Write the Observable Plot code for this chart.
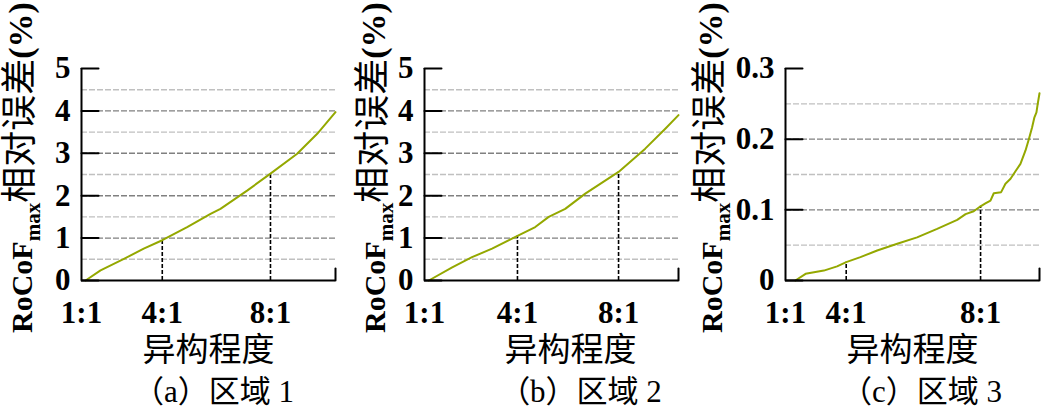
<!DOCTYPE html>
<html><head><meta charset="utf-8">
<script src="https://cdn.jsdelivr.net/npm/d3@7"></script>
<script src="https://cdn.jsdelivr.net/npm/@observablehq/plot@0.6"></script>
<style>
body{margin:0;background:#fff;}
#row{display:flex;width:1041px;height:413px;overflow:hidden;}
svg{overflow:visible;}
svg text{font-family:"Liberation Serif","Noto Sans CJK SC",serif;}
</style></head><body><div id="row"></div>
<script>
// shared texts
const xTickLabels = ["1:1", "4:1", "8:1"];
const xLabel = "异构程度";
const yLabelMain = "RoCoF", yLabelSub = "max", yLabelCJK = "相对误差", yLabelUnit = "(%)";
const captions = ["（a）区域 1", "（b）区域 2", "（c）区域 3"];

// x = position along the 异构程度 axis (0–100 % of axis length)
// panel (a) 区域1
const aTickPos = [0, 31.8, 74.4];
const aX = [1.6, 7.5, 16.7, 24.5, 31.8, 41.6, 50.8, 54.7, 65.2, 74.4, 84.9, 92.8, 100];
const aY = [0, 0.24, 0.51, 0.75, 0.95, 1.26, 1.57, 1.69, 2.12, 2.52, 2.99, 3.46, 3.97];
const aMarkY = [0.95, 2.52];
const aYTicks = [0, 1, 2, 3, 4, 5];
const aMajor = [1, 2, 3, 4];
const aMinor = [0.5, 1.5, 2.5, 3.5, 4.5];

// panel (b) 区域2
const bTickPos = [0, 36.6, 76.4];
const bX = [1.7, 10.9, 18.7, 26.6, 36.6, 43.6, 48.9, 55.4, 63.3, 76.4, 86.9, 94.8, 100];
const bY = [0, 0.31, 0.55, 0.75, 1.05, 1.26, 1.50, 1.69, 2.05, 2.56, 3.11, 3.58, 3.90];
const bMarkY = [1.05, 2.56];
const bYTicks = [0, 1, 2, 3, 4, 5];
const bMajor = [1, 2, 3, 4];
const bMinor = [0.5, 1.5, 2.5, 3.5, 4.5];

// panel (c) 区域3
const cTickPos = [0, 23.9, 76.8];
const cX = [3.9, 7.9, 15.1, 20.3, 23.9, 29.5, 36.1, 44.0, 51.8, 59.7, 67.6, 70.9, 74.1, 76.8, 78.7, 80.7, 82.0, 84.9, 86.6, 88.6, 90.6, 92.5, 94.5, 95.8, 97.1, 98.0, 98.8, 99.3, 100];
const cY = [0, 0.0094, 0.014, 0.020, 0.026, 0.033, 0.0425, 0.052, 0.061, 0.073, 0.0858, 0.094, 0.098, 0.105, 0.109, 0.113, 0.1235, 0.125, 0.137, 0.144, 0.155, 0.165, 0.184, 0.200, 0.217, 0.231, 0.238, 0.250, 0.265];
const cMarkY = [0.026, 0.105];
const cYTicks = [0, 0.1, 0.2, 0.3];
const cMajor = [0.1, 0.2];
const cMinor = [0.05, 0.15, 0.25];

const panels = [
  {tickPos: aTickPos, x: aX, y: aY, markY: aMarkY, yTicks: aYTicks, major: aMajor, minor: aMinor, caption: captions[0],
   ml: 81, mr: 12, lo: 49, ldx: 0, cdx: 5},
  {tickPos: bTickPos, x: bX, y: bY, markY: bMarkY, yTicks: bYTicks, major: bMajor, minor: bMinor, caption: captions[1],
   ml: 77, mr: 16, lo: 39, ldx: 19, cdx: 29},
  {tickPos: cTickPos, x: cX, y: cY, markY: cMarkY, yTicks: cYTicks, major: cMajor, minor: cMinor, caption: captions[2],
   ml: 91, mr: 2, lo: 63, ldx: 0, cdx: 9}
];

const tickShape = {draw(context, l) { context.moveTo(0, 0); context.lineTo(0, -l); }};
const font = '"Liberation Serif","Noto Sans CJK SC",serif';

for (const p of panels) {
  const curve = p.x.map((x, i) => ({x, y: p.y[i]}));
  const markers = p.tickPos.slice(1).map((x, i) => ({x, y: p.markY[i]}));
  const ymax = p.yTicks[p.yTicks.length - 1];
  const chart = Plot.plot({
    width: 347, height: 413,
    marginLeft: p.ml, marginRight: p.mr, marginTop: 68, marginBottom: 133,
    x: {domain: [0, 100]},
    y: {domain: [0, ymax]},
    style: {fontFamily: font, background: "white", color: "black"},
    marks: [
      Plot.ruleY(p.minor, {stroke: "#c0c0c0", strokeWidth: 1.4, strokeDasharray: "6,2"}),
      Plot.ruleY(p.major, {stroke: "#808080", strokeWidth: 1.4, strokeDasharray: "6,2"}),
      Plot.ruleX(markers, {x: "x", y1: 0, y2: "y", stroke: "black", strokeWidth: 1.6, strokeDasharray: "4,2"}),
      Plot.line(curve, {x: "x", y: "y", stroke: "#94a800", strokeWidth: 2}),
      Plot.axisY(p.yTicks, {tickSize: 0, tickPadding: 11, tickFormat: d => String(d), fontSize: 31, fontWeight: "bold", label: null}),
      Plot.axisX(p.tickPos, {tickSize: 0, tickPadding: 20, tickFormat: d => xTickLabels[p.tickPos.indexOf(d)], fontSize: 31, fontWeight: "bold", label: null}),
      Plot.vector(p.yTicks, {y: d => d, frameAnchor: "left", length: 17, rotate: 90, anchor: "start", shape: tickShape, stroke: "black", strokeWidth: 2}),
      Plot.vector([0], {frameAnchor: "bottom-right", length: 12, rotate: 0, anchor: "start", shape: tickShape, stroke: "black", strokeWidth: 2}),
      Plot.ruleX([0], {stroke: "black", strokeWidth: 2}),
      Plot.ruleY([0], {stroke: "black", strokeWidth: 2}),
      Plot.text([xLabel], {text: d => d, frameAnchor: "bottom", dy: 80, dx: p.ldx, fontSize: 33}),
      Plot.text([p.caption], {text: d => d, frameAnchor: "bottom", dy: 121, dx: p.cdx, fontSize: 31})
    ]
  });
  const t = d3.select(chart).append("text")
    .attr("transform", `translate(${p.ml - p.lo},333) rotate(-90)`)
    .attr("text-anchor", "start")
    .attr("fill", "black");
  t.append("tspan").text(yLabelMain).attr("font-size", 30).attr("font-weight", "bold");
  t.append("tspan").text(yLabelSub).attr("font-size", 21).attr("font-weight", "bold").attr("dy", 8);
  t.append("tspan").text(yLabelCJK).attr("font-size", 36).attr("dy", -8);
  t.append("tspan").text(yLabelUnit).attr("font-size", 34).attr("font-weight", "bold");
  document.getElementById("row").appendChild(chart);
}
</script></body></html>
